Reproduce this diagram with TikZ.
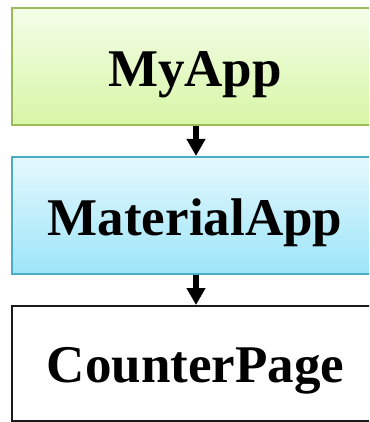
\documentclass[tikz,border=0pt]{standalone}
\usepackage{fontspec}
\setmainfont{Liberation Serif}
\usetikzlibrary{arrows.meta}
\definecolor{gtop}{HTML}{F4FDE8}
\definecolor{gbot}{HTML}{D7F6A6}
\definecolor{gborder}{HTML}{9BBB59}
\definecolor{btop}{HTML}{E4F8FD}
\definecolor{bbot}{HTML}{9DE5F9}
\definecolor{bborder}{HTML}{4BACC6}
\definecolor{kborder}{HTML}{1A1A1A}
\tikzset{
  boxbase/.style={rectangle, line width=2pt, minimum width=368pt, inner sep=0pt},
  greenbox/.style={boxbase, draw=gborder, top color=gtop, bottom color=gbot, minimum height=117pt},
  bluebox/.style={boxbase, draw=bborder, top color=btop, bottom color=bbot, minimum height=117pt},
  whitebox/.style={boxbase, draw=kborder, fill=white, minimum height=115pt},
  lbl/.style={anchor=base, inner sep=0pt, font=\fontsize{53}{60}\selectfont\bfseries},
  arr/.style={line width=6pt, -{Triangle[width=18pt,length=17pt]}}
}
\begin{document}
\begin{tikzpicture}[x=1pt,y=1pt]
\useasboundingbox (0,0) rectangle (369,-422);
\clip (0,0) rectangle (369,-422);
\node[greenbox] (myapp) at (196,-66.5) {};
\node[lbl] (tmyapp) at (195,-87) {MyApp};
\node[bluebox] (material) at (196,-215.5) {};
\node[lbl] (tmaterial) at (195,-235) {MaterialApp};
\node[whitebox] (counter) at (196,-363.5) {};
\node[lbl] (tcounter) at (195.5,-382) {CounterPage};
\draw[arr] (myapp.south) -- (material.north);
\draw[arr] (material.south) -- (counter.north);
\end{tikzpicture}
\end{document}
